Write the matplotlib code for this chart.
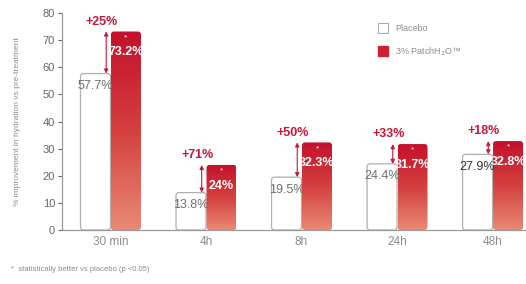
import numpy as np
import matplotlib
matplotlib.use("Agg")
import matplotlib.pyplot as plt
from matplotlib.patches import FancyBboxPatch
from matplotlib.colors import LinearSegmentedColormap
from matplotlib.lines import Line2D

plt.rcParams['font.family'] = ['Liberation Sans Narrow', 'Liberation Sans', 'DejaVu Sans']

times = ['30 min', '4h', '8h', '24h', '48h']
placebo = [57.7, 13.8, 19.5, 24.4, 27.9]
patch = [73.2, 24, 32.3, 31.7, 32.8]
placebo_lbl = ['57.7%', '13.8%', '19.5%', '24.4%', '27.9%']
patch_lbl = ['73.2%', '24%', '32.3%', '31.7%', '32.8%']
gains = ['+25%', '+71%', '+50%', '+33%', '+18%']

red = '#c8173a'
grey = '#8c8c8c'
cmap = LinearSegmentedColormap.from_list('grad', ['#e98a74', '#d4403e', '#c4102c'])

fig = plt.figure(figsize=(5.26, 2.84), dpi=100)
ax = fig.add_axes([0.118, 0.19, 0.882, 0.764])
ax.set_xlim(-0.507, 4.35)
ax.set_ylim(0, 80)

w = 0.314
asp = (80 / (0.764 * 284)) / (4.857 / (0.882 * 526))
grad = np.linspace(0, 1, 256).reshape(-1, 1)

for i in range(len(times)):
    # placebo bar
    pb = FancyBboxPatch((i - w, 0), w, placebo[i],
                        boxstyle='round,pad=0,rounding_size=0.03',
                        mutation_aspect=asp, fc='white', ec='#b0b0b0', lw=0.9, zorder=2)
    ax.add_patch(pb)
    # patch bar with gradient
    rb = FancyBboxPatch((i + 0.005, 0), w, patch[i],
                        boxstyle='round,pad=0,rounding_size=0.03',
                        mutation_aspect=asp, fc='none', ec='none', zorder=2)
    ax.add_patch(rb)
    im = ax.imshow(grad, cmap=cmap, aspect='auto', origin='lower',
                   extent=(i + 0.005, i + 0.005 + w, 0, patch[i]), zorder=2)
    im.set_clip_path(rb)

    ax.annotate(placebo_lbl[i], (i - w / 2, placebo[i]), xytext=(0, -9),
                textcoords='offset points', ha='center', va='center',
                fontsize=9, color='#6e6e6e' if i < 4 else '#333333', zorder=4)
    ax.annotate(patch_lbl[i], (i + 0.005 + w / 2, patch[i]), xytext=(0, -15),
                textcoords='offset points', ha='center', va='center',
                fontsize=9, color='white', fontweight='bold', zorder=4)
    ax.annotate('*', (i + 0.005 + w / 2, patch[i]), xytext=(0, -4.5),
                textcoords='offset points', ha='center', va='center',
                fontsize=6, color='white', zorder=4)

    ax.annotate('', xy=(i - 0.045, patch[i]), xytext=(i - 0.045, placebo[i]),
                arrowprops=dict(arrowstyle='<|-|>', color=red, lw=0.8,
                                mutation_scale=6, shrinkA=0, shrinkB=0), zorder=3)
    ax.annotate(gains[i], (i - 0.09, patch[i]), xytext=(0, 7),
                textcoords='offset points', ha='center', va='center',
                fontsize=9, color=red, fontweight='bold', zorder=4)

ax.set_xticks(range(len(times)))
ax.set_xticklabels(times, fontsize=8.5, color=grey)
ax.tick_params(axis='x', length=0, pad=4)
ax.set_yticks(range(0, 81, 10))
ax.tick_params(axis='y', labelsize=8, colors='#666666', length=3, width=0.8, pad=2)
for s in ['top', 'right']:
    ax.spines[s].set_visible(False)
for s in ['left', 'bottom']:
    ax.spines[s].set_color('#999999')
    ax.spines[s].set_linewidth(0.9)

fig.text(0.034, 0.57, '% improvement in hydration vs pre-treatment', rotation=90,
         ha='center', va='center', fontsize=6, color=grey)
fig.text(0.02, 0.05, '*  statistically better vs placebo (p <0.05)',
         ha='left', va='center', fontsize=5.5, color=grey)

handles = [Line2D([], [], marker='s', ls='none', ms=7.5, mfc='white', mec='#aaaaaa', mew=0.8),
           Line2D([], [], marker='s', ls='none', ms=7.5, mfc='#d02036', mec='#d02036')]
ax.legend(handles, ['Placebo', '3% PatchH$_2$O\u2122'], loc='upper left',
          bbox_to_anchor=(0.655, 0.985), frameon=False, fontsize=6.5,
          labelcolor=grey, handletextpad=0.3, labelspacing=1.3)

fig.savefig('out.png', dpi=100)
